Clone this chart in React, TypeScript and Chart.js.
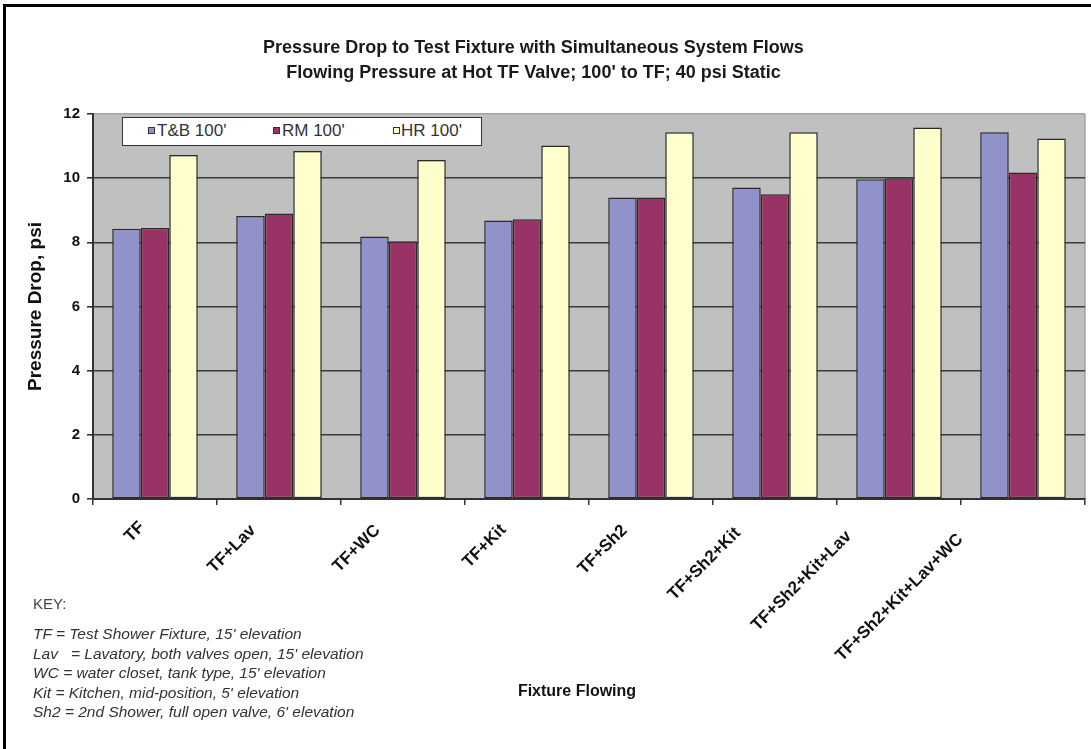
import React, { useEffect, useRef } from "react";
import { Chart, registerables } from "chart.js";

Chart.register(...registerables);

const categories = [
  "TF",
  "TF+Lav",
  "TF+WC",
  "TF+Kit",
  "TF+Sh2",
  "TF+Sh2+Kit",
  "TF+Sh2+Kit+Lav",
  "TF+Sh2+Kit+Lav+WC",
];
const seriesLabels = ["T&B 100'", "RM 100'", "HR 100'"];
const tbValues = [8.42, 8.82, 8.18, 8.68, 9.4, 9.71, 9.97, 11.43];
const rmValues = [8.45, 8.9, 8.03, 8.72, 9.4, 9.5, 10.0, 10.18];
const hrValues = [10.72, 10.85, 10.57, 11.02, 11.43, 11.43, 11.58, 11.24];
const seriesColors = ["#9292CA", "#993366", "#FFFFCC"];
const yMin = 0;
const yMax = 12;
const yStep = 2;
const titleLines = [
  "Pressure Drop to Test Fixture with Simultaneous System Flows",
  "Flowing Pressure at Hot TF Valve; 100' to TF; 40 psi Static",
];
const yAxisTitle = "Pressure Drop, psi";
const xAxisTitle = "Fixture Flowing";
const keyHeading = "KEY:";
const keyLines = [
  "TF = Test Shower Fixture, 15' elevation",
  "Lav   = Lavatory, both valves open, 15' elevation",
  "WC = water closet, tank type, 15' elevation",
  "Kit = Kitchen, mid-position, 5' elevation",
  "Sh2 = 2nd Shower, full open valve, 6' elevation",
];

const FONT = "'Liberation Sans', Arial, Helvetica, sans-serif";

export default function App() {
  const ref = useRef<HTMLCanvasElement>(null);

  useEffect(() => {
    document.body.style.overflow = "hidden";
    const plotBg = {
      id: "plotBg",
      beforeDraw(chart: any) {
        const { ctx, chartArea } = chart;
        const { left, top, right, bottom } = chartArea;
        ctx.save();
        ctx.fillStyle = "#c0c0c0";
        ctx.fillRect(left, top, right - left, bottom - top);
        ctx.strokeStyle = "#a4a4a4";
        ctx.lineWidth = 1.5;
        ctx.beginPath();
        ctx.moveTo(right, top);
        ctx.lineTo(right, bottom);
        ctx.stroke();
        ctx.restore();
      },
    };

    // Rotated category labels, placed from the category scale's tick pixels
    const xLabels = {
      id: "xLabels",
      afterDraw(chart: any) {
        const { ctx } = chart;
        const xs = chart.scales.x;
        ctx.save();
        ctx.font = `bold 17px ${FONT}`;
        ctx.fillStyle = "#111";
        ctx.textAlign = "right";
        ctx.textBaseline = "middle";
        xs.ticks.forEach((_t: any, i: number) => {
          const label = String(xs.getLabelForValue(i));
          const px = xs.getPixelForTick(i);
          const L = ctx.measureText(label).width;
          const ax = px - 6 - 0.33 * L;
          const ay = xs.top + 24 + 0.08 * L;
          ctx.save();
          ctx.translate(ax, ay);
          ctx.rotate(-Math.PI / 4);
          ctx.fillText(label, 0, 0);
          ctx.restore();
        });
        ctx.restore();
      },
    };

    const values = [tbValues, rmValues, hrValues];
    const chart = new Chart(ref.current as HTMLCanvasElement, {
      type: "bar",
      data: {
        labels: categories,
        datasets: values.map((v, i) => ({
          label: seriesLabels[i],
          data: v,
          backgroundColor: seriesColors[i],
          borderColor: "#2a2a2a",
          borderWidth: 1.5,
          borderSkipped: false,
          categoryPercentage: 0.69,
          barPercentage: 1.0,
        })),
      },
      options: {
        responsive: false,
        animation: false,
        devicePixelRatio: 1,
        events: [],
        layout: { padding: { left: 0, top: 114, right: 6, bottom: 0 } },
        plugins: {
          legend: { display: false },
          title: { display: false },
          tooltip: { enabled: false },
        },
        scales: {
          x: {
            offset: true,
            grid: {
              offset: true,
              drawOnChartArea: false,
              drawTicks: true,
              tickLength: 6,
              color: "#333",
              lineWidth: 1.5,
            },
            border: { display: true, color: "#333", width: 2 },
            ticks: {
              display: false,
              autoSkip: false,
            },
            afterFit: (s: any) => {
              s.height = 250;
            },
          },
          y: {
            min: yMin,
            max: yMax,
            ticks: {
              stepSize: yStep,
              color: "#111",
              padding: 7,
              font: { family: FONT, size: 15, weight: "bold" },
            },
            grid: {
              color: (c: any) => (c.tick && c.tick.value === yMax ? "#a4a4a4" : "#3a3a3a"),
              tickColor: "#333",
              lineWidth: 1.6,
              drawTicks: true,
              tickLength: 6,
            },
            border: { display: true, color: "#333", width: 2 },
            title: {
              display: true,
              text: yAxisTitle,
              color: "#111",
              font: { family: FONT, size: 19, weight: "bold" },
              padding: { top: 24, bottom: 0 },
            },
            afterFit: (s: any) => {
              s.width = 93;
            },
          },
        },
      },
      plugins: [plotBg, xLabels],
    } as any);
    return () => chart.destroy();
  }, []);

  const legendSwatchX = [148, 273, 393];
  const legendTextX = [157, 282, 401];

  return (
    <div
      style={{
        position: "absolute",
        left: 0,
        top: 0,
        width: 1091,
        height: 749,
        background: "#fff",
        overflow: "hidden",
        fontFamily: FONT,
      }}
    >
      <canvas
        ref={ref}
        width={1091}
        height={749}
        style={{ position: "absolute", left: 0, top: 0, width: 1091, height: 749 }}
      />
      {titleLines.map((t, i) => (
        <div
          key={i}
          style={{
            position: "absolute",
            left: 0,
            width: 1067,
            top: 37 + i * 25,
            lineHeight: "20px",
            textAlign: "center",
            fontSize: 18,
            fontWeight: "bold",
            color: "#1a1a1a",
            whiteSpace: "pre",
          }}
        >
          {t}
        </div>
      ))}
      <div
        style={{
          position: "absolute",
          left: 122,
          top: 117,
          width: 360,
          height: 29,
          boxSizing: "border-box",
          border: "1.5px solid #333",
          background: "#fff",
        }}
      />
      {seriesLabels.map((s, i) => (
        <React.Fragment key={s}>
          <div
            style={{
              position: "absolute",
              left: legendSwatchX[i],
              top: 127,
              width: 7,
              height: 7,
              boxSizing: "border-box",
              border: "1px solid #333",
              background: seriesColors[i],
            }}
          />
          <div
            style={{
              position: "absolute",
              left: legendTextX[i],
              top: 122,
              lineHeight: "18px",
              fontSize: 17,
              color: "#333",
              whiteSpace: "pre",
            }}
          >
            {s}
          </div>
        </React.Fragment>
      ))}
      <div
        style={{
          position: "absolute",
          left: 477,
          width: 200,
          top: 682,
          lineHeight: "18px",
          textAlign: "center",
          fontSize: 16,
          fontWeight: "bold",
          color: "#111",
        }}
      >
        {xAxisTitle}
      </div>
      <div
        style={{
          position: "absolute",
          left: 33,
          top: 595,
          lineHeight: "18px",
          fontSize: 15,
          color: "#444",
        }}
      >
        {keyHeading}
      </div>
      {keyLines.map((k, i) => (
        <div
          key={i}
          style={{
            position: "absolute",
            left: 33,
            top: 625 + i * 19.5,
            lineHeight: "18px",
            fontSize: 15.5,
            fontStyle: "italic",
            color: "#333",
            whiteSpace: "pre",
          }}
        >
          {k}
        </div>
      ))}
      <div
        style={{
          position: "absolute",
          left: 3,
          top: 4,
          width: 1200,
          height: 900,
          borderTop: "3px solid #000",
          borderLeft: "3px solid #000",
          pointerEvents: "none",
        }}
      />
    </div>
  );
}
